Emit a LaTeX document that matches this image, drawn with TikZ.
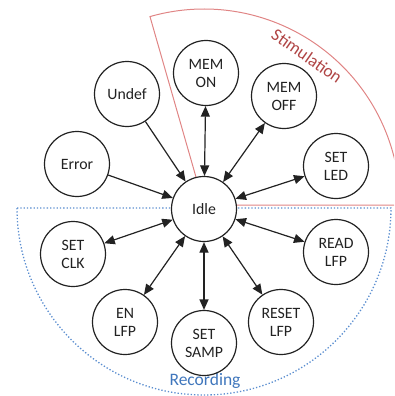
\documentclass[tikz,border=0pt]{standalone}
\usepackage{fontspec}
\setmainfont{Carlito}
\usetikzlibrary{arrows.meta}
\definecolor{stimline}{HTML}{E08585}
\definecolor{stimtext}{HTML}{B04545}
\definecolor{recline}{HTML}{5B8ED0}
\definecolor{rectext}{HTML}{3F76BC}
\definecolor{ink}{HTML}{222222}
\begin{document}
\begin{tikzpicture}[x=1pt,y=-1pt,
  state/.style={circle,draw=ink,line width=1.2pt,fill=white,minimum size=65pt,inner sep=0pt,align=center,font=\fontsize{15.8}{18}\selectfont,text=ink},
  link/.style={draw=ink,line width=1.2pt,{Triangle[length=10.5pt,width=9pt]}-{Triangle[length=10.5pt,width=9pt]}},
  tolink/.style={draw=ink,line width=1.2pt,-{Triangle[length=10.5pt,width=9pt]}},
  regionlabel/.style={font=\fontsize{17.5}{20}\selectfont,inner sep=1pt}]
\useasboundingbox (0,0) rectangle (394,396);
\begin{scope}
  \clip (0,0) rectangle (394,396);
  \draw[stimline, line width=1pt] (204,205) -- +(-106:196) arc[start angle=-106,end angle=0,radius=196] -- cycle;
  \draw[recline, dotted, line width=1.3pt] (17,208) -- (391,208) arc[start angle=0,end angle=180,radius=187];
\end{scope}
\node[regionlabel, text=stimtext, rotate=-35] (stimlabel) at (307,56) {Stimulation};
\node[regionlabel, text=rectext] (reclabel) at (205,381) {Recording};

\node[state] (idle) at (204,209) {Idle};
\node[state] (undef) at (127,94) {Undef};
\node[state] (error) at (77,164) {Error};
\node[state] (memon) at (206,73) {MEM\\ON};
\node[state] (memoff) at (284,96) {MEM\\OFF};
\node[state] (setled) at (336,166) {SET\\LED};
\node[state] (readlfp) at (336,252) {READ\\LFP};
\node[state] (resetlfp) at (281,322) {RESET\\LFP};
\node[state] (setsamp) at (204,343) {SET\\SAMP};
\node[state] (enlfp) at (125,322) {EN\\LFP};
\node[state] (setclk) at (73,254) {SET\\CLK};

\draw[tolink] (undef) -- (idle);
\draw[tolink] (error) -- (idle);
\draw[link] (idle) -- (memon);
\draw[link] (idle) -- (memoff);
\draw[link] (idle) -- (setled);
\draw[link] (idle) -- (readlfp);
\draw[link] (idle) -- (resetlfp);
\draw[link] (idle) -- (setsamp);
\draw[link] (idle) -- (enlfp);
\draw[link] (idle) -- (setclk);
\end{tikzpicture}
\end{document}
